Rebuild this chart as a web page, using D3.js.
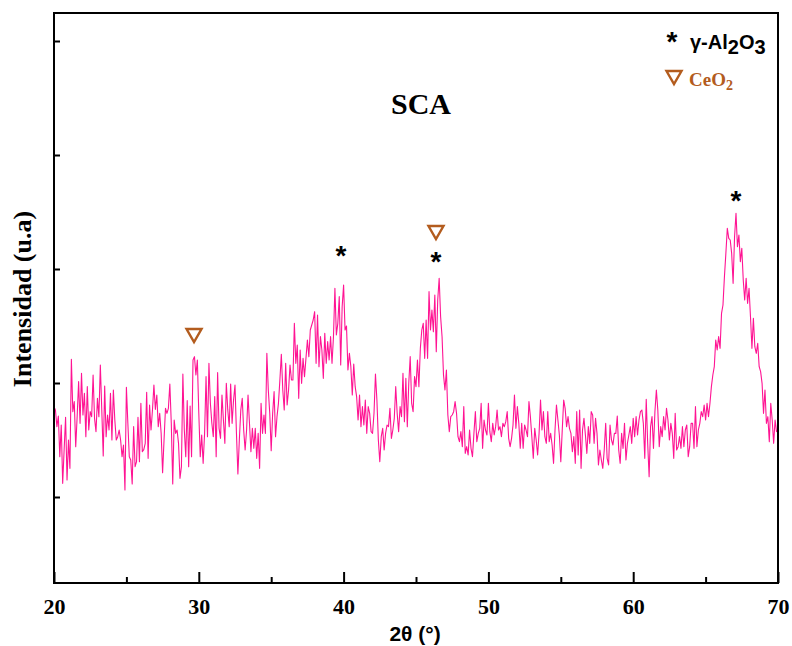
<!DOCTYPE html>
<html>
<head>
<meta charset="utf-8">
<script src="https://cdn.jsdelivr.net/npm/d3@7"></script>
<style>
  html, body { margin: 0; padding: 0; background: #fff; }
  svg { display: block; }
</style>
</head>
<body>
<svg id="chart" width="792" height="646"></svg>
<script>
// ---------- data ----------
const thetaStart = 20;
const thetaStep = 0.1;
const intensity = [
  // 20.0 - 32.9
  529,519,469,501,379,474,299,400,497,309,
  429,344,671,514,544,409,500,604,479,629,
  504,569,439,589,459,514,499,624,494,454,
  554,499,654,519,381,591,439,504,459,569,
  429,579,489,429,439,459,429,379,414,279,
  587,480,379,369,297,469,349,364,497,364,
  539,394,400,419,572,374,534,459,519,594,
  521,564,469,509,449,331,430,524,509,524,
  597,479,297,489,449,459,419,314,349,627,
  459,379,547,349,531,379,669,679,624,669,
  509,379,444,359,449,619,439,659,539,480,
  439,559,379,631,464,434,564,489,419,599,
  520,469,597,479,549,594,449,327,430,519,
  // 33.0 - 45.9
  554,459,399,459,564,479,394,464,404,464,
  374,449,344,539,449,504,449,689,579,509,
  397,509,574,439,499,539,609,686,579,519,
  659,534,579,654,609,609,779,659,714,554,
  699,599,674,619,674,729,679,759,774,789,
  814,659,804,649,739,699,614,749,659,724,
  669,739,659,739,884,744,779,859,654,829,
  894,
  759,771,639,689,649,564,657,589,559,489,
  564,469,529,474,549,449,529,509,454,449,
  509,627,549,429,364,439,464,399,449,474,
  469,524,434,459,494,589,509,454,529,499,
  629,484,614,469,599,679,539,514,619,589,
  669,589,704,759,779,674,789,674,874,
  // 46.0 - 46.6
  759,819,754,864,694,849,914,
  // 46.7 - 58.7
  799,739,624,579,639,504,454,499,504,514,
  544,509,439,424,454,409,529,389,409,384,
  459,404,379,449,514,424,449,464,539,404,
  489,459,444,539,454,424,479,444,469,519,
  459,469,439,479,469,484,514,434,409,434,
  474,564,464,529,479,404,479,404,474,459,
  439,544,499,439,374,464,429,384,449,549,
  459,514,439,419,514,424,449,414,359,459,
  534,489,444,364,459,549,524,469,499,464,
  449,394,439,359,514,384,519,344,459,494,
  444,389,469,419,514,504,419,494,449,354,
  399,369,344,399,479,374,354,474,429,414,
  449,
  // 58.8 - 67.0
  449,501,399,359,449,404,479,369,419,444,
  469,419,494,439,499,444,489,514,519,479,
  374,551,419,319,469,499,404,514,579,519,
  409,469,439,499,459,524,489,429,479,449,
  374,509,399,409,439,404,469,409,459,474,
  379,409,479,479,404,529,409,459,479,514,
  499,534,489,539,499,539,589,624,649,729,
  699,739,704,809,834,919,989,1064,1034,1029,
  989,899,1039,
  1109,
  // 67.2 - 70.0
  1009,1044,964,1004,909,849,914,839,884,799,
  704,794,709,689,719,649,634,599,509,579,
  479,499,424,539,489,419,489,454,459
];
const twoTheta = intensity.map((_, i) => +(thetaStart + i * thetaStep).toFixed(1));

const xDomain = [20, 70];
const yDomain = [0, 1710];
const xMajorTicks = [20, 30, 40, 50, 60, 70];
const xMinorTicks = [25, 35, 45, 55, 65];
const yTicks = [258, 600, 942, 1284, 1626];

// peak markers
const aluminaPeaks = [ {theta: 39.82, v: 987}, {theta: 46.38, v: 969}, {theta: 67.1, v: 1152} ];
const ceriaPeaks   = [ {theta: 29.67, v: 744}, {theta: 46.38, v: 1053} ];

// ---------- layout ----------
const margin = {left: 54, right: 14, top: 13, bottom: 63};
const W = 792, H = 646;
const svg = d3.select("#chart");
const x = d3.scaleLinear().domain(xDomain).range([margin.left, W - margin.right]);
const y = d3.scaleLinear().domain(yDomain).range([H - margin.bottom, margin.top]);

const pink = "#ff1493";
const brown = "#b35c1e";
const serif = "'Liberation Serif', 'Times New Roman', serif";
const sans = "'Liberation Sans', Arial, sans-serif";

// data line
const line = d3.line().x((d, i) => x(twoTheta[i])).y(d => y(d));
svg.append("path")
  .datum(intensity)
  .attr("d", line)
  .attr("fill", "none")
  .attr("stroke", pink)
  .attr("stroke-width", 1.1)
  .attr("stroke-linejoin", "round");

// frame
svg.append("rect")
  .attr("x", x(20)).attr("y", y(yDomain[1]))
  .attr("width", x(70) - x(20)).attr("height", y(0) - y(yDomain[1]))
  .attr("fill", "none").attr("stroke", "#000").attr("stroke-width", 2);

// x axis
const xAxis = d3.axisBottom(x).tickValues(xMajorTicks).tickSizeInner(-11).tickSizeOuter(0).tickPadding(15).tickFormat(d3.format("d"));
const gx = svg.append("g").attr("transform", `translate(0,${y(0)})`).call(xAxis);
gx.select(".domain").remove();
gx.selectAll(".tick line").attr("stroke", "#000").attr("stroke-width", 2);
gx.selectAll(".tick text")
  .attr("font-family", serif)
  .attr("font-weight", "bold").attr("font-size", 22).attr("fill", "#000");

const xMinor = d3.axisBottom(x).tickValues(xMinorTicks).tickSizeInner(-6).tickSizeOuter(0).tickFormat("");
const gxm = svg.append("g").attr("transform", `translate(0,${y(0)})`).call(xMinor);
gxm.select(".domain").remove();
gxm.selectAll(".tick line").attr("stroke", "#000").attr("stroke-width", 2);

// y axis
const yAxis = d3.axisLeft(y).tickValues(yTicks).tickSizeInner(-6).tickSizeOuter(0).tickFormat("");
const gy = svg.append("g").attr("transform", `translate(${x(20)},0)`).call(yAxis);
gy.select(".domain").remove();
gy.selectAll(".tick line").attr("stroke", "#000").attr("stroke-width", 2);

// axis titles
svg.append("text")
  .attr("x", 415).attr("y", 641)
  .attr("text-anchor", "middle")
  .attr("font-family", sans)
  .attr("font-weight", "bold").attr("font-size", 21)
  .text("2θ (°)");

svg.append("text")
  .attr("transform", "translate(31,299) rotate(-90)")
  .attr("text-anchor", "middle")
  .attr("font-family", serif)
  .attr("font-weight", "bold").attr("font-size", 26)
  .text("Intensidad (u.a)");

// title
svg.append("text")
  .attr("x", 421).attr("y", 114)
  .attr("text-anchor", "middle")
  .attr("font-family", serif)
  .attr("font-weight", "bold").attr("font-size", 30)
  .text("SCA");

// markers
function asterisk(g, cx, cy) {
  g.append("text")
    .attr("x", cx).attr("y", cy + 11)
    .attr("text-anchor", "middle")
    .attr("font-family", sans)
    .attr("font-weight", "bold").attr("font-size", 28)
    .attr("fill", "#000")
    .text("*");
}
function triangle(g, cx, cy) {
  const s = 7.5;
  g.append("path")
    .attr("d", `M${cx - s},${cy - s * 0.8} L${cx + s},${cy - s * 0.8} L${cx},${cy + s * 0.95} Z`)
    .attr("fill", "none").attr("stroke", brown).attr("stroke-width", 2.4)
    .attr("stroke-linejoin", "miter");
}
const gm = svg.append("g");
aluminaPeaks.forEach(p => asterisk(gm, x(p.theta), y(p.v)));
ceriaPeaks.forEach(p => triangle(gm, x(p.theta), y(p.v)));

// legend
asterisk(gm, 672, 40);
const t1 = svg.append("text")
  .attr("x", 690).attr("y", 49)
  .attr("font-family", sans)
  .attr("font-weight", "bold").attr("font-size", 20).attr("fill", "#000");
t1.append("tspan").text("γ-Al");
t1.append("tspan").attr("dy", 5).text("2");
t1.append("tspan").attr("dy", -5).text("O");
t1.append("tspan").attr("dy", 5).text("3");

triangle(gm, 674, 77);
const t2 = svg.append("text")
  .attr("x", 689).attr("y", 86)
  .attr("font-family", serif)
  .attr("font-weight", "bold").attr("font-size", 19).attr("fill", brown);
t2.append("tspan").text("CeO");
t2.append("tspan").attr("dy", 4).attr("font-size", 14).text("2");
</script>
</body>
</html>
